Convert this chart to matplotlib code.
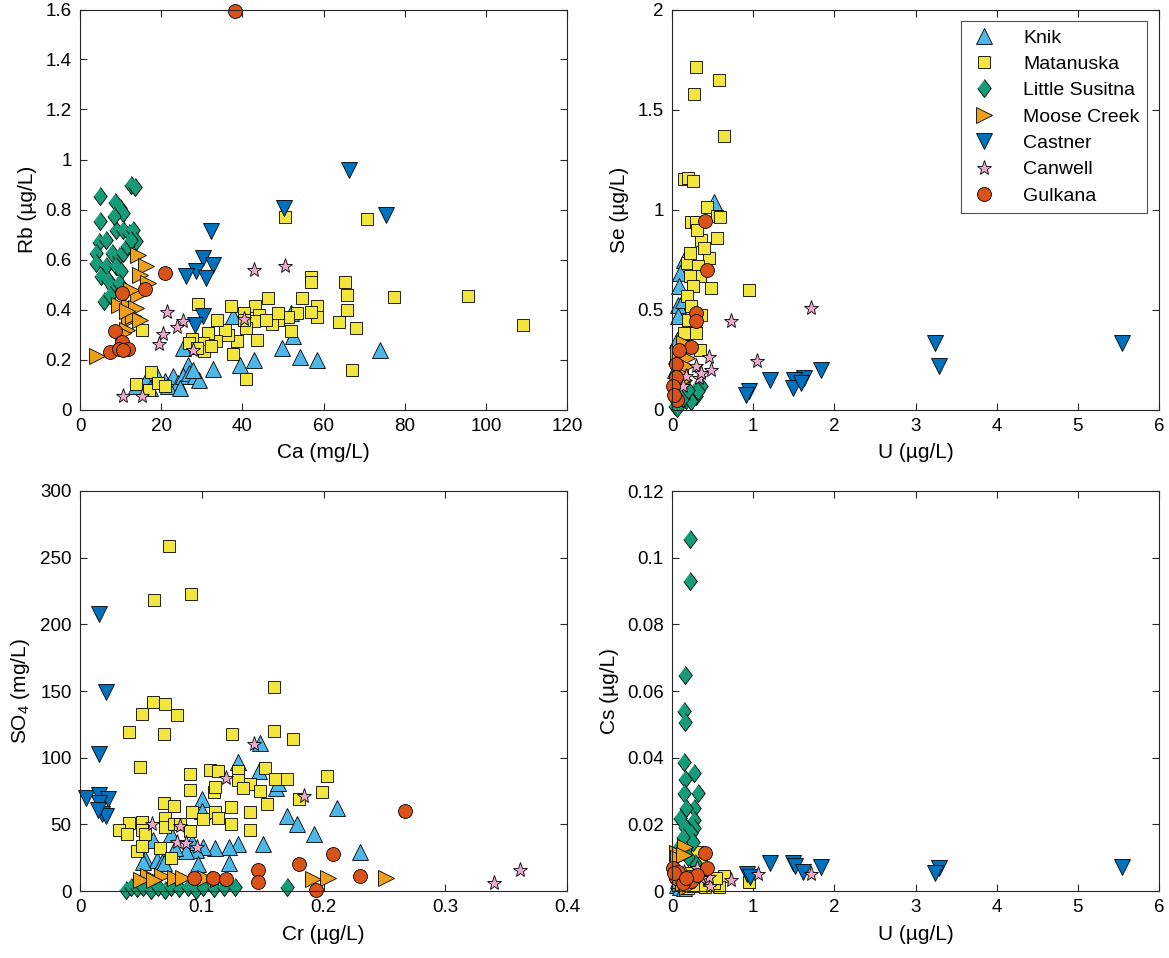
import numpy as np
import matplotlib
matplotlib.use("Agg")
import matplotlib.pyplot as plt
from matplotlib.ticker import FuncFormatter

plt.rcParams['font.family'] = ['Liberation Sans', 'DejaVu Sans']
plt.rcParams['mathtext.default'] = 'regular'

groups = ["Knik", "Matanuska", "Little Susitna", "Moose Creek", "Castner", "Canwell", "Gulkana"]
colors = ["#4DB8E8", "#F2E63D", "#169C78", "#EDA01C", "#0072BD", "#EBA9CB", "#D95319"]
diamond = [(0, 1), (0.75, 0), (0, -1), (-0.75, 0)]
markers = ["^", "s", diamond, ">", "v", "*", "o"]
msizes = [11, 8.5, 13, 11, 11, 11, 10]

# ---- panel 1: Ca (mg/L) vs Rb (ug/L)
p1_knik_x = [74.0, 58.3, 54.3, 49.7, 52.5, 42.9, 39.5, 32.7, 26.5, 37.6, 25.5, 13.9, 16.2, 19.0, 20.9,
             22.8, 24.1, 25.5, 26.9, 28.3, 29.3, 17.2, 21.8, 24.6, 27.9, 52.0]
p1_knik_y = [0.237, 0.2, 0.209, 0.247, 0.293, 0.2, 0.18, 0.163, 0.18, 0.373, 0.247, 0.093, 0.12, 0.133,
             0.113, 0.133, 0.107, 0.133, 0.147, 0.133, 0.12, 0.087, 0.093, 0.087, 0.16, 0.387]
p1_mat_x = [50.6, 70.6, 56.8, 56.9, 65.2, 65.8, 77.4, 95.5, 109.1, 46.4, 54.6, 58.3, 58.5, 65.7, 63.9,
            68.1, 67.1, 56.8, 53.4, 51.2, 52.0, 48.9, 47.3, 48.7, 43.2, 44.1, 42.9, 40.9, 43.5, 40.9,
            37.8, 38.7, 37.3, 36.5, 35.7, 33.7, 29.1, 33.4, 31.6, 30.2, 30.6, 32.3, 27.6, 26.9, 28.8,
            40.4, 15.3, 17.5, 16.9, 13.9, 19.2, 20.9, 45.9, 40.4]
p1_mat_y = [0.771, 0.763, 0.529, 0.509, 0.511, 0.457, 0.449, 0.456, 0.337, 0.447, 0.447, 0.416, 0.371,
            0.397, 0.351, 0.327, 0.16, 0.389, 0.387, 0.369, 0.316, 0.36, 0.343, 0.387, 0.413, 0.38,
            0.353, 0.327, 0.28, 0.123, 0.223, 0.273, 0.413, 0.3, 0.32, 0.36, 0.423, 0.273, 0.307, 0.267,
            0.233, 0.253, 0.283, 0.267, 0.247, 0.387, 0.32, 0.151, 0.08, 0.104, 0.107, 0.093, 0.36, 0.36]
p1_ls_x = [4.9, 4.9, 8.6, 9.9, 10.7, 12.5, 13.5, 4.6, 4.0, 4.0, 6.5, 8.8, 10.7, 12.1, 13.0, 13.9, 7.9,
           9.7, 10.7, 6.5, 8.8, 10.2, 5.1, 7.0, 7.9, 6.0, 7.4, 9.7, 11.6, 8.4, 12.5]
p1_ls_y = [0.856, 0.753, 0.829, 0.807, 0.787, 0.9, 0.89, 0.671, 0.627, 0.587, 0.68, 0.72, 0.72, 0.707,
           0.72, 0.673, 0.627, 0.613, 0.627, 0.573, 0.573, 0.553, 0.533, 0.52, 0.493, 0.433, 0.46,
           0.507, 0.653, 0.773, 0.68]
p1_moose_x = [4.2, 14.4, 16.3, 14.9, 16.7, 14.4, 9.7, 12.1, 13.9, 12.1, 11.6, 10.7, 13.0, 14.9, 12.5, 11.6]
p1_moose_y = [0.213, 0.62, 0.573, 0.54, 0.507, 0.46, 0.42, 0.413, 0.407, 0.36, 0.32, 0.307, 0.373, 0.36,
              0.48, 0.393]
p1_cast_x = [66.4, 50.2, 75.5, 32.2, 30.2, 32.8, 28.6, 26.0, 31.1, 30.2, 28.3]
p1_cast_y = [0.957, 0.807, 0.777, 0.713, 0.607, 0.58, 0.553, 0.533, 0.527, 0.373, 0.34]
p1_can_x = [42.9, 50.6, 21.4, 25.4, 23.9, 20.4, 19.5, 27.9, 40.4, 10.7, 15.3]
p1_can_y = [0.56, 0.573, 0.39, 0.356, 0.329, 0.303, 0.263, 0.24, 0.363, 0.053, 0.056]
p1_gul_x = [38.1, 20.9, 10.3, 16.0, 8.6, 10.3, 11.9, 7.4, 9.5, 10.7]
p1_gul_y = [1.593, 0.547, 0.467, 0.484, 0.313, 0.27, 0.244, 0.231, 0.244, 0.237]

# ---- panel 2: U (ug/L) vs Se (ug/L)
p2_knik_x = [0.52, 0.15, 0.10, 0.08, 0.07, 0.06, 0.05, 0.13, 0.09, 0.04]
p2_knik_y = [1.038, 0.75, 0.683, 0.525, 0.467, 0.35, 0.267, 0.55, 0.617, 0.2]
p2_mat_x = [0.30, 0.58, 0.27, 0.64, 0.15, 0.20, 0.26, 0.43, 0.56, 0.59, 0.56, 0.95, 0.48, 0.24, 0.29,
            0.36, 0.45, 0.18, 0.32, 0.34, 0.22, 0.26, 0.18, 0.24, 0.36, 0.29, 0.20, 0.15, 0.31, 0.22,
            0.40, 0.16, 0.35, 0.12]
p2_mat_y = [1.712, 1.65, 1.58, 1.367, 1.155, 1.158, 1.142, 1.013, 0.97, 0.963, 0.857, 0.6, 0.607, 0.937,
            0.937, 0.85, 0.758, 0.733, 0.717, 0.667, 0.667, 0.617, 0.567, 0.517, 0.475, 0.383, 0.45,
            0.383, 0.9, 0.783, 0.808, 0.317, 0.3, 0.183]
p2_ls_x = [0.28, 0.36, 0.29, 0.17, 0.22, 0.10, 0.04, 0.32, 0.24, 0.13, 0.20, 0.06]
p2_ls_y = [0.097, 0.117, 0.067, 0.05, 0.075, 0.033, 0.017, 0.092, 0.042, 0.058, 0.1, 0.008]
p2_moose_x = [0.18, 0.15, 0.17, 0.10, 0.08, 0.15]
p2_moose_y = [0.258, 0.333, 0.217, 0.183, 0.283, 0.15]
p2_cast_x = [3.24, 3.29, 5.55, 1.84, 1.63, 1.50, 1.21, 1.49, 1.59, 0.95, 0.91]
p2_cast_y = [0.333, 0.217, 0.333, 0.2, 0.158, 0.15, 0.15, 0.108, 0.133, 0.092, 0.075]
p2_can_x = [1.71, 0.73, 1.05, 0.46, 0.48, 0.30, 0.33, 0.17, 0.13, 0.36]
p2_can_y = [0.508, 0.445, 0.242, 0.263, 0.2, 0.22, 0.158, 0.167, 0.117, 0.183]
p2_gul_x = [0.41, 0.43, 0.29, 0.30, 0.24, 0.09, 0.05, 0.05, 0.01, 0.06, 0.03]
p2_gul_y = [0.942, 0.697, 0.483, 0.442, 0.312, 0.3, 0.23, 0.162, 0.12, 0.05, 0.075]

# ---- panel 3: Cr (ug/L) vs SO4 (mg/L)
p3_knik_x = [0.148, 0.130, 0.147, 0.100, 0.161, 0.163, 0.211, 0.170, 0.178, 0.192, 0.230, 0.150, 0.130,
             0.122, 0.111, 0.101, 0.095, 0.092, 0.087, 0.075, 0.060, 0.053, 0.063, 0.067, 0.078, 0.097,
             0.122, 0.100, 0.069, 0.052]
p3_knik_y = [111, 97, 90, 69, 77, 81, 62, 56, 50, 43, 29, 35, 35, 33, 32, 33, 31, 37, 30, 43, 38, 24, 23,
             22, 32, 20, 21, 60, 21, 22]
p3_mat_x = [0.073, 0.091, 0.061, 0.159, 0.060, 0.070, 0.051, 0.080, 0.040, 0.069, 0.125, 0.159, 0.175,
            0.049, 0.090, 0.107, 0.113, 0.152, 0.130, 0.160, 0.170, 0.203, 0.090, 0.110, 0.111, 0.130,
            0.140, 0.134, 0.148, 0.199, 0.154, 0.124, 0.069, 0.077, 0.092, 0.101, 0.111, 0.113, 0.124,
            0.140, 0.140, 0.180, 0.040, 0.051, 0.032, 0.039, 0.051, 0.053, 0.070, 0.070, 0.077, 0.082,
            0.090, 0.047, 0.051, 0.066, 0.075]
p3_mat_y = [259, 223, 218, 153, 142, 140, 133, 132, 119, 118, 118, 120, 114, 93, 88, 91, 90, 92, 90, 84,
            84, 86, 76, 74, 78, 83, 80, 77, 75, 74, 65, 63, 66, 64, 59, 54, 59, 55, 50, 59, 46, 69, 51,
            52, 46, 43, 46, 43, 55, 48, 50, 50, 45, 30, 34, 32, 25]
p3_ls_x = [0.038, 0.042, 0.047, 0.052, 0.058, 0.064, 0.070, 0.075, 0.081, 0.089, 0.095, 0.101, 0.110,
           0.118, 0.127, 0.170]
p3_ls_y = [1, 3, 2, 3, 1, 3, 1, 3, 2, 3, 1, 3, 2, 3, 3, 3]
p3_moose_x = [0.056, 0.067, 0.078, 0.085, 0.191, 0.204, 0.251, 0.050, 0.061, 0.103, 0.113]
p3_moose_y = [11, 11, 10, 10, 9, 10, 10, 8, 8, 10, 9]
p3_cast_x = [0.0154, 0.021, 0.0154, 0.0053, 0.016, 0.023, 0.016, 0.018, 0.021, 0.015]
p3_cast_y = [208, 149, 103, 70, 72, 69, 66, 58, 56, 61]
p3_can_x = [0.143, 0.120, 0.184, 0.059, 0.082, 0.080, 0.087, 0.096, 0.340, 0.361]
p3_can_y = [110, 85, 71, 50, 49, 37, 36, 33, 6, 16]
p3_gul_x = [0.267, 0.208, 0.180, 0.230, 0.146, 0.146, 0.194, 0.094, 0.109, 0.120]
p3_gul_y = [60, 28, 20, 11, 16, 7, 1, 10, 10, 9]

# ---- panel 4: U (ug/L) vs Cs (ug/L)
p4_knik_x = [0.06, 0.10, 0.08, 0.15]
p4_knik_y = [0.0018, 0.0013, 0.0033, 0.0008]
p4_mat_x = [0.64, 0.58, 0.52, 0.41, 0.31, 0.36, 0.95, 0.20, 0.26, 0.45, 0.22, 0.54]
p4_mat_y = [0.0045, 0.0011, 0.0023, 0.0011, 0.0118, 0.0083, 0.0028, 0.0008, 0.0015, 0.0033, 0.0053, 0.0038]
p4_ls_x = [0.22, 0.22, 0.16, 0.15, 0.16, 0.15, 0.27, 0.16, 0.32, 0.15, 0.27, 0.17, 0.10, 0.27, 0.27,
           0.16, 0.23, 0.26, 0.13, 0.08, 0.28, 0.20]
p4_ls_y = [0.1055, 0.093, 0.0648, 0.054, 0.0506, 0.0388, 0.0353, 0.0336, 0.0293, 0.0293, 0.0248, 0.0248,
           0.0218, 0.0213, 0.0188, 0.0193, 0.0173, 0.0148, 0.0163, 0.0128, 0.0083, 0.0103]
p4_moose_x = [0.16, 0.06, 0.07, 0.15, 0.13, 0.18]
p4_moose_y = [0.0133, 0.0113, 0.0098, 0.0108, 0.0023, 0.0013]
p4_cast_x = [5.55, 3.29, 3.24, 1.84, 1.49, 1.52, 1.62, 1.21, 0.93, 0.96]
p4_cast_y = [0.0073, 0.0068, 0.0053, 0.0071, 0.0083, 0.0075, 0.0058, 0.0083, 0.005, 0.0043]
p4_can_x = [1.71, 1.06, 0.73, 0.47, 0.46, 0.31, 0.22, 0.15, 0.36, 0.08]
p4_can_y = [0.0051, 0.005, 0.0033, 0.0015, 0.0043, 0.0068, 0.0028, 0.0058, 0.0038, 0.0043]
p4_gul_x = [0.41, 0.43, 0.01, 0.05, 0.05, 0.24, 0.31, 0.13, 0.08, 0.03, 0.17]
p4_gul_y = [0.0113, 0.0068, 0.0068, 0.0043, 0.0038, 0.0031, 0.0048, 0.0023, 0.0058, 0.0053, 0.0038]

panels = [
    ([p1_knik_x, p1_mat_x, p1_ls_x, p1_moose_x, p1_cast_x, p1_can_x, p1_gul_x],
     [p1_knik_y, p1_mat_y, p1_ls_y, p1_moose_y, p1_cast_y, p1_can_y, p1_gul_y]),
    ([p2_knik_x, p2_mat_x, p2_ls_x, p2_moose_x, p2_cast_x, p2_can_x, p2_gul_x],
     [p2_knik_y, p2_mat_y, p2_ls_y, p2_moose_y, p2_cast_y, p2_can_y, p2_gul_y]),
    ([p3_knik_x, p3_mat_x, p3_ls_x, p3_moose_x, p3_cast_x, p3_can_x, p3_gul_x],
     [p3_knik_y, p3_mat_y, p3_ls_y, p3_moose_y, p3_cast_y, p3_can_y, p3_gul_y]),
    ([p4_knik_x, p4_mat_x, p4_ls_x, p4_moose_x, p4_cast_x, p4_can_x, p4_gul_x],
     [p4_knik_y, p4_mat_y, p4_ls_y, p4_moose_y, p4_cast_y, p4_can_y, p4_gul_y]),
]
xlabels = ["Ca (mg/L)", "U (µg/L)", "Cr (µg/L)", "U (µg/L)"]
ylabels = ["Rb (µg/L)", "Se (µg/L)", "SO$_{4}$ (mg/L)", "Cs (µg/L)"]
xlims = [(0, 120), (0, 6), (0, 0.4), (0, 6)]
ylims = [(0, 1.6), (0, 2), (0, 300), (0, 0.12)]
xticks = [np.arange(0, 121, 20), np.arange(0, 7, 1), np.arange(0, 0.41, 0.1), np.arange(0, 7, 1)]
yticks = [np.arange(0, 1.61, 0.2), np.arange(0, 2.01, 0.5), np.arange(0, 301, 50), np.arange(0, 0.121, 0.02)]

fig = plt.figure(figsize=(11.69, 9.58), dpi=100)
W, H = 1169, 958
boxes = [(80, 9.5), (672, 9.5), (80, 491), (672, 491)]
aw, ah = 487, 400

fmt = FuncFormatter(lambda v, p: "%g" % round(v, 6))
edge = "#262626"

for i, (xs, ys) in enumerate(panels):
    l, t = boxes[i]
    ax = fig.add_axes([l / W, 1 - (t + ah) / H, aw / W, ah / H])
    for g in range(len(groups)):
        ax.plot(xs[g], ys[g], linestyle="none", marker=markers[g], markersize=msizes[g],
                markerfacecolor=colors[g], markeredgecolor="black", markeredgewidth=0.6,
                label=groups[g], clip_on=False)
    ax.set_xlim(xlims[i])
    ax.set_ylim(ylims[i])
    ax.set_xticks(xticks[i])
    ax.set_yticks(yticks[i])
    ax.xaxis.set_major_formatter(fmt)
    ax.yaxis.set_major_formatter(fmt)
    ax.tick_params(direction="in", top=True, right=True, length=5, width=0.8,
                   colors=edge, labelsize=13.5, labelcolor="black", pad=6)
    for s in ax.spines.values():
        s.set_color(edge)
        s.set_linewidth(0.8)
    ax.set_xlabel(xlabels[i], fontsize=15, labelpad=6)
    ax.set_ylabel(ylabels[i], fontsize=15, labelpad=6)
    if i == 1:
        leg = ax.legend(loc="upper right", fontsize=14, frameon=True, fancybox=False,
                        borderpad=0.4, labelspacing=0.45, handletextpad=1.2,
                        handlelength=1.6, borderaxespad=0.6)
        leg.get_frame().set_edgecolor(edge)
        leg.get_frame().set_linewidth(0.8)

fig.savefig("out.png", dpi=100)
